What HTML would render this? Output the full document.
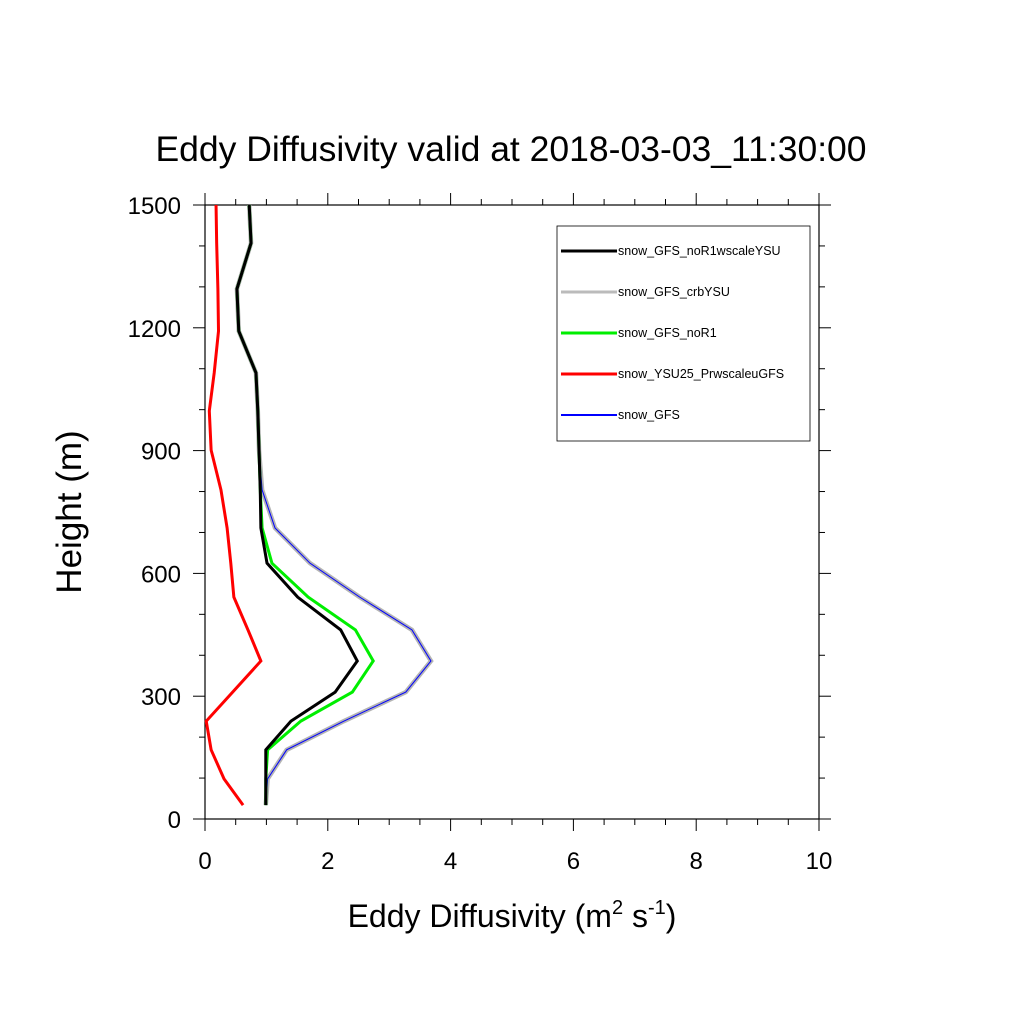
<!DOCTYPE html>
<html><head><meta charset="utf-8"><style>body{margin:0;background:#fff}svg{display:block;font-family:"Liberation Sans",sans-serif}</style></head>
<body>
<svg id="chart" width="1024" height="1024" viewBox="0 0 1024 1024">
<text x="511" y="161" font-size="35.5" text-anchor="middle">Eddy Diffusivity valid at 2018-03-03_11:30:00</text>
<g id="axes"></g>
<g id="series"></g>
<g id="legend"></g>
<text transform="translate(81,512) rotate(-90)" font-size="35" text-anchor="middle">Height (m)</text>
<text x="512" y="927" font-size="32" text-anchor="middle">Eddy Diffusivity (m<tspan font-size="20" dy="-13">2</tspan><tspan dy="13"> s</tspan><tspan font-size="20" dy="-13">-1</tspan><tspan dy="13">)</tspan></text>
</svg>
<script>
const heights=[34,98,169,239,310,386,462,542,625,711,804,901,997,1090,1192,1295,1407,1500];
const blackVals=[0.99,0.99,0.99,1.40,2.12,2.48,2.21,1.51,1.01,0.91,0.90,0.88,0.86,0.83,0.55,0.52,0.75,0.72];
const greenVals=[0.99,0.99,1.02,1.56,2.40,2.74,2.45,1.68,1.09,0.93,0.90,0.88,0.86,0.83,0.55,0.52,0.75,0.72];
const grayVals=[0.99,1.02,1.33,2.26,3.27,3.68,3.37,2.52,1.71,1.14,0.93,0.88,0.86,0.83,0.55,0.52,0.75,0.72];
const redVals=[0.62,0.31,0.10,0.02,0.45,0.91,0.70,0.47,0.42,0.36,0.26,0.10,0.07,0.15,0.22,0.21,0.19,0.18];
const seriesNames=["snow_GFS_noR1wscaleYSU","snow_GFS_crbYSU","snow_GFS_noR1","snow_YSU25_PrwscaleuGFS","snow_GFS"];
const xTicks=[0,2,4,6,8,10];
const yTicks=[0,300,600,900,1200,1500];
const X0=205,X1=819,Y0=819,Y1=205;
const sx=v=>X0+(v-0)/(10-0)*(X1-X0);
const sy=v=>Y0-(v-0)/(1500-0)*(Y0-Y1);
const NS="http://www.w3.org/2000/svg";
function mk(t,a,p){const e=document.createElementNS(NS,t);for(const k in a)e.setAttribute(k,a[k]);p.appendChild(e);return e;}
const ax=document.getElementById('axes');
const frame=mk('rect',{x:X0,y:Y1,width:X1-X0,height:Y0-Y1,fill:'none',stroke:'#000','stroke-width':1.2},ax);


for(let v=0;v<=10.001;v+=0.5){const x=sx(v);const maj=Math.abs(v%2)<1e-6;const L=maj?12:6;
mk('line',{x1:x,x2:x,y1:Y0,y2:Y0+L,stroke:'#000','stroke-width':1},ax);
mk('line',{x1:x,x2:x,y1:Y1,y2:Y1-L,stroke:'#000','stroke-width':1},ax);}
for(let v=0;v<=1500.001;v+=100){const y=sy(v);const maj=v%300===0;const L=maj?12:6;
mk('line',{x1:X0,x2:X0-L,y1:y,y2:y,stroke:'#000','stroke-width':1},ax);
mk('line',{x1:X1,x2:X1+L,y1:y,y2:y,stroke:'#000','stroke-width':1},ax);}
xTicks.forEach(v=>{const t=mk('text',{x:sx(v),y:Y0+50,'font-size':24,'text-anchor':'middle'},ax);t.textContent=v;

});
yTicks.forEach(v=>{const t=mk('text',{x:X0-24,y:sy(v)+9,'font-size':24,'text-anchor':'end'},ax);t.textContent=v;

});
const sg=document.getElementById('series');
function line(vals,color,w,name){const pts=vals.map((v,i)=>sx(v)+','+sy(heights[i])).join(' ');
const p=mk('polyline',{points:pts,fill:'none',stroke:color,'stroke-width':w,'stroke-linejoin':'miter'},sg);

}
line(grayVals,'#b4b4b4',4.5,'series-gfs-crbysu');
line(grayVals,'#0000ff',1,'series-gfs');
line(redVals,'#ff0000',3,'series-ysu25-prwscaleugfs');
line(greenVals,'#00ee00',3,'series-gfs-nor1');
line(blackVals,'#000000',3,'series-gfs-nor1wscaleysu');
const lg=document.getElementById('legend');
mk('rect',{x:557,y:226,width:253,height:215,fill:'#fff',stroke:'#000','stroke-width':0.8},lg);
const lcol=['#000','#bbb','#00ee00','#ff0000','#0000ff'];
const lw=[3,3,3,3,2];
seriesNames.forEach((n,i)=>{const y=251+i*41;
const l=mk('line',{x1:561,x2:617,y1:y,y2:y,stroke:lcol[i],'stroke-width':lw[i]},lg);


const t=mk('text',{x:618,y:y+4,'font-size':12.5},lg);t.textContent=n;

});
</script>
</body></html>
